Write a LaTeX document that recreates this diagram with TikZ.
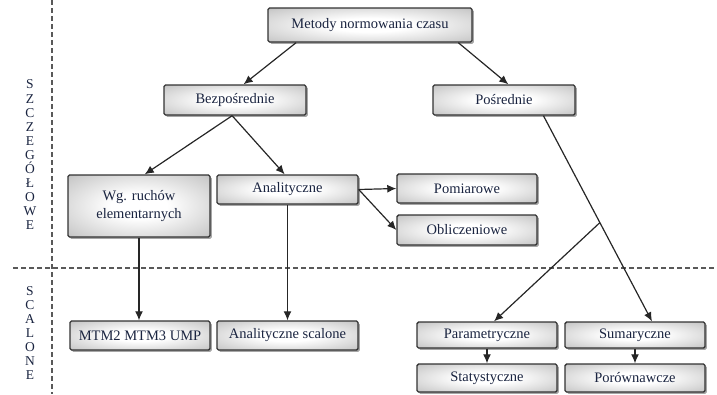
\documentclass[tikz,border=0pt]{standalone}
\usepackage{fontspec}
\setmainfont{Liberation Serif}
\usetikzlibrary{arrows.meta,shadows,calc}

\definecolor{txt}{HTML}{1A2440}
\definecolor{edge}{HTML}{333333}
\definecolor{conn}{HTML}{262626}
\definecolor{rim}{HTML}{8E8E8E}
\pgfdeclareradialshading{boxshade}{\pgfpoint{0bp}{0bp}}{%
  color(0bp)=(white); color(10bp)=(white); color(32bp)=(rim!45); color(50bp)=(rim); color(100bp)=(rim)}

\tikzset{
  box/.style={draw=edge, line width=1.4pt, rounded corners=1.5pt,
    shading=boxshade, inner sep=0pt, align=center, text=txt,
    font=\fontsize{14.5}{18}\selectfont,
    drop shadow={shadow xshift=1.8pt, shadow yshift=-1.8pt, fill=black, opacity=0.35}},
  link/.style={draw=conn, line width=1.2pt, -{Latex[length=9pt,width=8pt]}},
  divider/.style={draw=black!65, line width=1.3pt, dash pattern=on 5pt off 3pt},
  side/.style={text=txt, align=center, font=\fontsize{13.5}{14.1}\selectfont, inner sep=0pt}
}

\begin{document}
\begin{tikzpicture}[x=1pt, y=-1pt]
  \useasboundingbox (0,0) rectangle (717,394);

  % level dividers
  \draw[divider] (52,0) -- (52,394);
  \draw[divider] (13,268) -- (717,268);

  % level captions
  \node[side] (lvlA) at (30,155) {S\\Z\\C\\Z\\E\\G\\Ó\\Ł\\O\\W\\E};
  \node[side] (lvlB) at (30,333) {S\\C\\A\\L\\O\\N\\E};

  % boxes
  \node[box, minimum width=204pt, minimum height=34pt] (top) at (370,25) {Metody normowania czasu};
  \node[box, minimum width=142pt, minimum height=30pt] (bez) at (235,100) {Bezpośrednie};
  \node[box, minimum width=142pt, minimum height=30pt] (pos) at (504,100) {Pośrednie};
  \node[box, minimum width=142pt, minimum height=62pt] (wg) at (139,206) {Wg. ruchów\\elementarnych};
  \node[box, minimum width=141pt, minimum height=29pt] (ana) at (287.5,189.5) {Analityczne};
  \node[box, minimum width=140pt, minimum height=29pt] (pom) at (467,188.5) {Pomiarowe};
  \node[box, minimum width=140pt, minimum height=30pt] (obl) at (467,230) {Obliczeniowe};
  \node[box, minimum width=140pt, minimum height=29pt] (mtm) at (140,335.5) {MTM2 MTM3 UMP};
  \node[box, minimum width=141pt, minimum height=29pt] (anas) at (287.5,335.5) {Analityczne scalone};
  \node[box, minimum width=140pt, minimum height=26pt] (par) at (487,335) {Parametryczne};
  \node[box, minimum width=140pt, minimum height=26pt] (sum) at (635,335) {Sumaryczne};
  \node[box, minimum width=140pt, minimum height=28pt] (sta) at (487,378) {Statystyczne};
  \node[box, minimum width=140pt, minimum height=28pt] (por) at (635,378) {Porównawcze};

  % connectors
  \draw[link] ($(top.south west)!0.14!(top.south east)$) -- ($(bez.north west)!0.56!(bez.north east)$);
  \draw[link] ($(top.south west)!0.93!(top.south east)$) -- ($(pos.north west)!0.53!(pos.north east)$);

  \coordinate (bezfoot) at ($(bez.south west)!0.48!(bez.south east)$);
  \draw[link] (bezfoot) -- ($(wg.north west)!0.54!(wg.north east)$);
  \draw[link] (bezfoot) -- ($(ana.north west)!0.48!(ana.north east)$);

  \draw[link] (ana.east) -- (pom.west);
  \draw[link] (ana.east) -- (obl.west);

  \draw[link] (wg.south) -- (wg.south |- mtm.north);
  \draw[link] (ana.south) -- (ana.south |- anas.north);

  \coordinate (posfoot) at ($(pos.south west)!0.775!(pos.south east)$);
  \coordinate (sumtip) at ($(sum.north west)!0.62!(sum.north east)$);
  \coordinate (fork) at ($(posfoot)!0.52!(sumtip)$);
  \draw[link] (posfoot) -- (sumtip);
  \draw[link] (fork) -- ($(par.north west)!0.55!(par.north east)$);

  \draw[link] (par.south) -- (sta.north);
  \draw[link] (sum.south) -- (por.north);
\end{tikzpicture}
\end{document}
